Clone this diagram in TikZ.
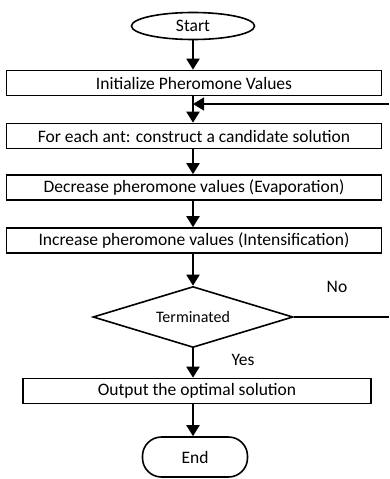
\documentclass[tikz,border=0pt]{standalone}
\usepackage{fontspec}
\setmainfont{Carlito}
\usetikzlibrary{shapes.geometric,arrows.meta}
\begin{document}
\begin{tikzpicture}[x=1pt,y=-1pt,
  txt/.style={font=\fontsize{17.5}{21}\selectfont},
  box/.style={draw,line width=1.6pt,minimum width=375pt,minimum height=25pt,inner sep=0pt,txt},
  flow/.style={line width=2pt,-{Triangle[width=13pt,length=11pt]}},
  back/.style={line width=1.3pt,-{Triangle[width=13pt,length=11pt]}},
  lbl/.style={txt}]
\useasboundingbox (0,0) rectangle (389,479);
\node[ellipse,draw,line width=1.6pt,minimum width=123pt,minimum height=27pt,inner sep=0pt,txt] (start) at (193,26) {Start};
\node[box] (init) at (194,83) {Initialize Pheromone Values};
\node[box] (ant) at (194,136) {For each ant: construct a candidate solution};
\node[box] (dec) at (194,187.5) {Decrease pheromone values (Evaporation)};
\node[box] (inc) at (194,240.5) {Increase pheromone values (Intensification)};
\node[diamond,draw,line width=1.6pt,minimum width=200pt,minimum height=61pt,inner sep=0pt,aspect=3.3,font=\fontsize{16}{18}\selectfont] (term) at (193,317) {Terminated};
\node[box,minimum width=348pt] (out) at (197,391) {Output the optimal solution};
\node[draw,line width=1.6pt,rounded corners=19pt,minimum width=105pt,minimum height=40pt,inner sep=0pt,txt] (end) at (195,457) {End};
\coordinate (r1) at (389,317);
\coordinate (r2) at (389,104);
\coordinate (m) at (193,104);
\draw[flow] (start.south) -- (start.south |- init.north);
\draw[flow] (init.south -| m) -- (ant.north -| m);
\draw[back] (r2) -- (m);
\draw[flow] (ant.south -| m) -- (dec.north -| m);
\draw[flow] (dec.south -| m) -- (inc.north -| m);
\draw[flow] (inc.south -| m) -- (term.north);
\draw[flow] (term.south) -- (term.south |- out.north);
\draw[flow] (out.south -| term.south) -- (end.north -| term.south);
\draw[line width=1.3pt] (term.east) -- (r1);
\node[lbl] (no) at (337,287) {No};
\node[lbl] (yes) at (243,360) {Yes};
\end{tikzpicture}
\end{document}
